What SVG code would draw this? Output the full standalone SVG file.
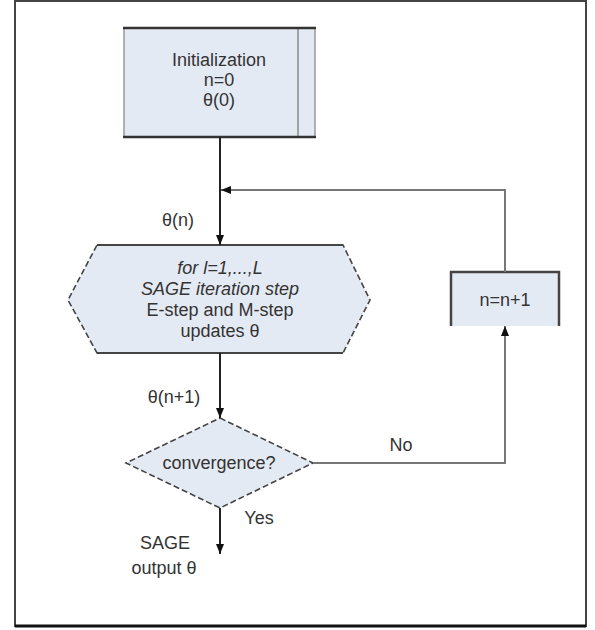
<svg xmlns="http://www.w3.org/2000/svg" width="595" height="630" viewBox="0 0 595 630">
<style>
text{font-family:"Liberation Sans",Arial,sans-serif;font-size:18px;fill:#333;text-anchor:middle}
.it{font-style:italic}
.fill{fill:#e4eaf4}
.dash{fill:#e4eaf4;stroke:#444;stroke-width:1.6;stroke-dasharray:6 3}
.main{stroke:#222;stroke-width:2;fill:none}
.loop{stroke:#777;stroke-width:2;fill:none}
</style>
<defs>
<marker id="ah" viewBox="0 0 10 10" refX="10" refY="5" markerWidth="10" markerHeight="8" markerUnits="userSpaceOnUse" orient="auto" preserveAspectRatio="none">
<path d="M0,0 L10,5 L0,10 z" fill="#111"/>
</marker>
</defs>
<rect x="0" y="0" width="595" height="630" fill="#fff"/>
<g id="frame">
<path d="M15,1 H586 V626 H15 Z" fill="none" stroke="#444" stroke-width="2"/>
<line x1="15" y1="626" x2="586" y2="626" stroke="#111" stroke-width="3"/>
</g>
<g id="init">
<rect class="fill" x="124" y="28" width="191" height="109"/>
<line x1="124" y1="28" x2="124" y2="137" stroke="#999" stroke-width="1.5"/>
<line x1="315" y1="28" x2="315" y2="137" stroke="#999" stroke-width="1.5"/>
<line x1="298" y1="28" x2="298" y2="137" stroke="#888" stroke-width="1.5"/>
<line x1="123" y1="28" x2="316" y2="28" stroke="#333" stroke-width="2.5"/>
<line x1="123" y1="137" x2="316" y2="137" stroke="#333" stroke-width="2.5"/>
<text x="219" y="66">Initialization</text>
<text x="219" y="86">n=0</text>
<text x="219" y="106">θ(0)</text>
</g>
<g id="sage">
<path class="dash" d="M97,245 H343 L370,300 L343,353 H97 L68,300 Z"/>
<line x1="97" y1="245" x2="343" y2="245" stroke="#444" stroke-width="2"/>
<line x1="97" y1="353" x2="343" y2="353" stroke="#444" stroke-width="2"/>
<text class="it" x="220" y="274">for l=1,...,L</text>
<text class="it" x="220" y="295">SAGE iteration step</text>
<text x="220" y="316">E-step and M-step</text>
<text x="220" y="337">updates θ</text>
</g>
<g id="conv">
<path class="dash" d="M220,418 L313,463 L220,508 L126,463 Z"/>
<text x="219" y="469">convergence?</text>
</g>
<g id="inc">
<rect class="fill" x="451" y="272" width="108" height="54"/>
<path d="M451,326 V272 H559 V326" fill="none" stroke="#444" stroke-width="2.5"/>
<text x="505" y="306">n=n+1</text>
</g>
<g id="connectors">
<line class="main" x1="220" y1="137" x2="220" y2="245" marker-end="url(#ah)"/>
<path class="loop" d="M505,272 V190 H221" marker-end="url(#ah)"/>
<line class="main" x1="220" y1="353" x2="220" y2="418" marker-end="url(#ah)"/>
<path class="loop" d="M313,463 H505 V326" marker-end="url(#ah)"/>
<line class="main" x1="220" y1="508" x2="220" y2="554" marker-end="url(#ah)"/>
</g>
<g id="labels">
<text x="178" y="226">θ(n)</text>
<text x="174" y="403">θ(n+1)</text>
<text x="401" y="451">No</text>
<text x="259" y="524">Yes</text>
<text x="165" y="549">SAGE</text>
<text x="164" y="574">output θ</text>
</g>
</svg>
